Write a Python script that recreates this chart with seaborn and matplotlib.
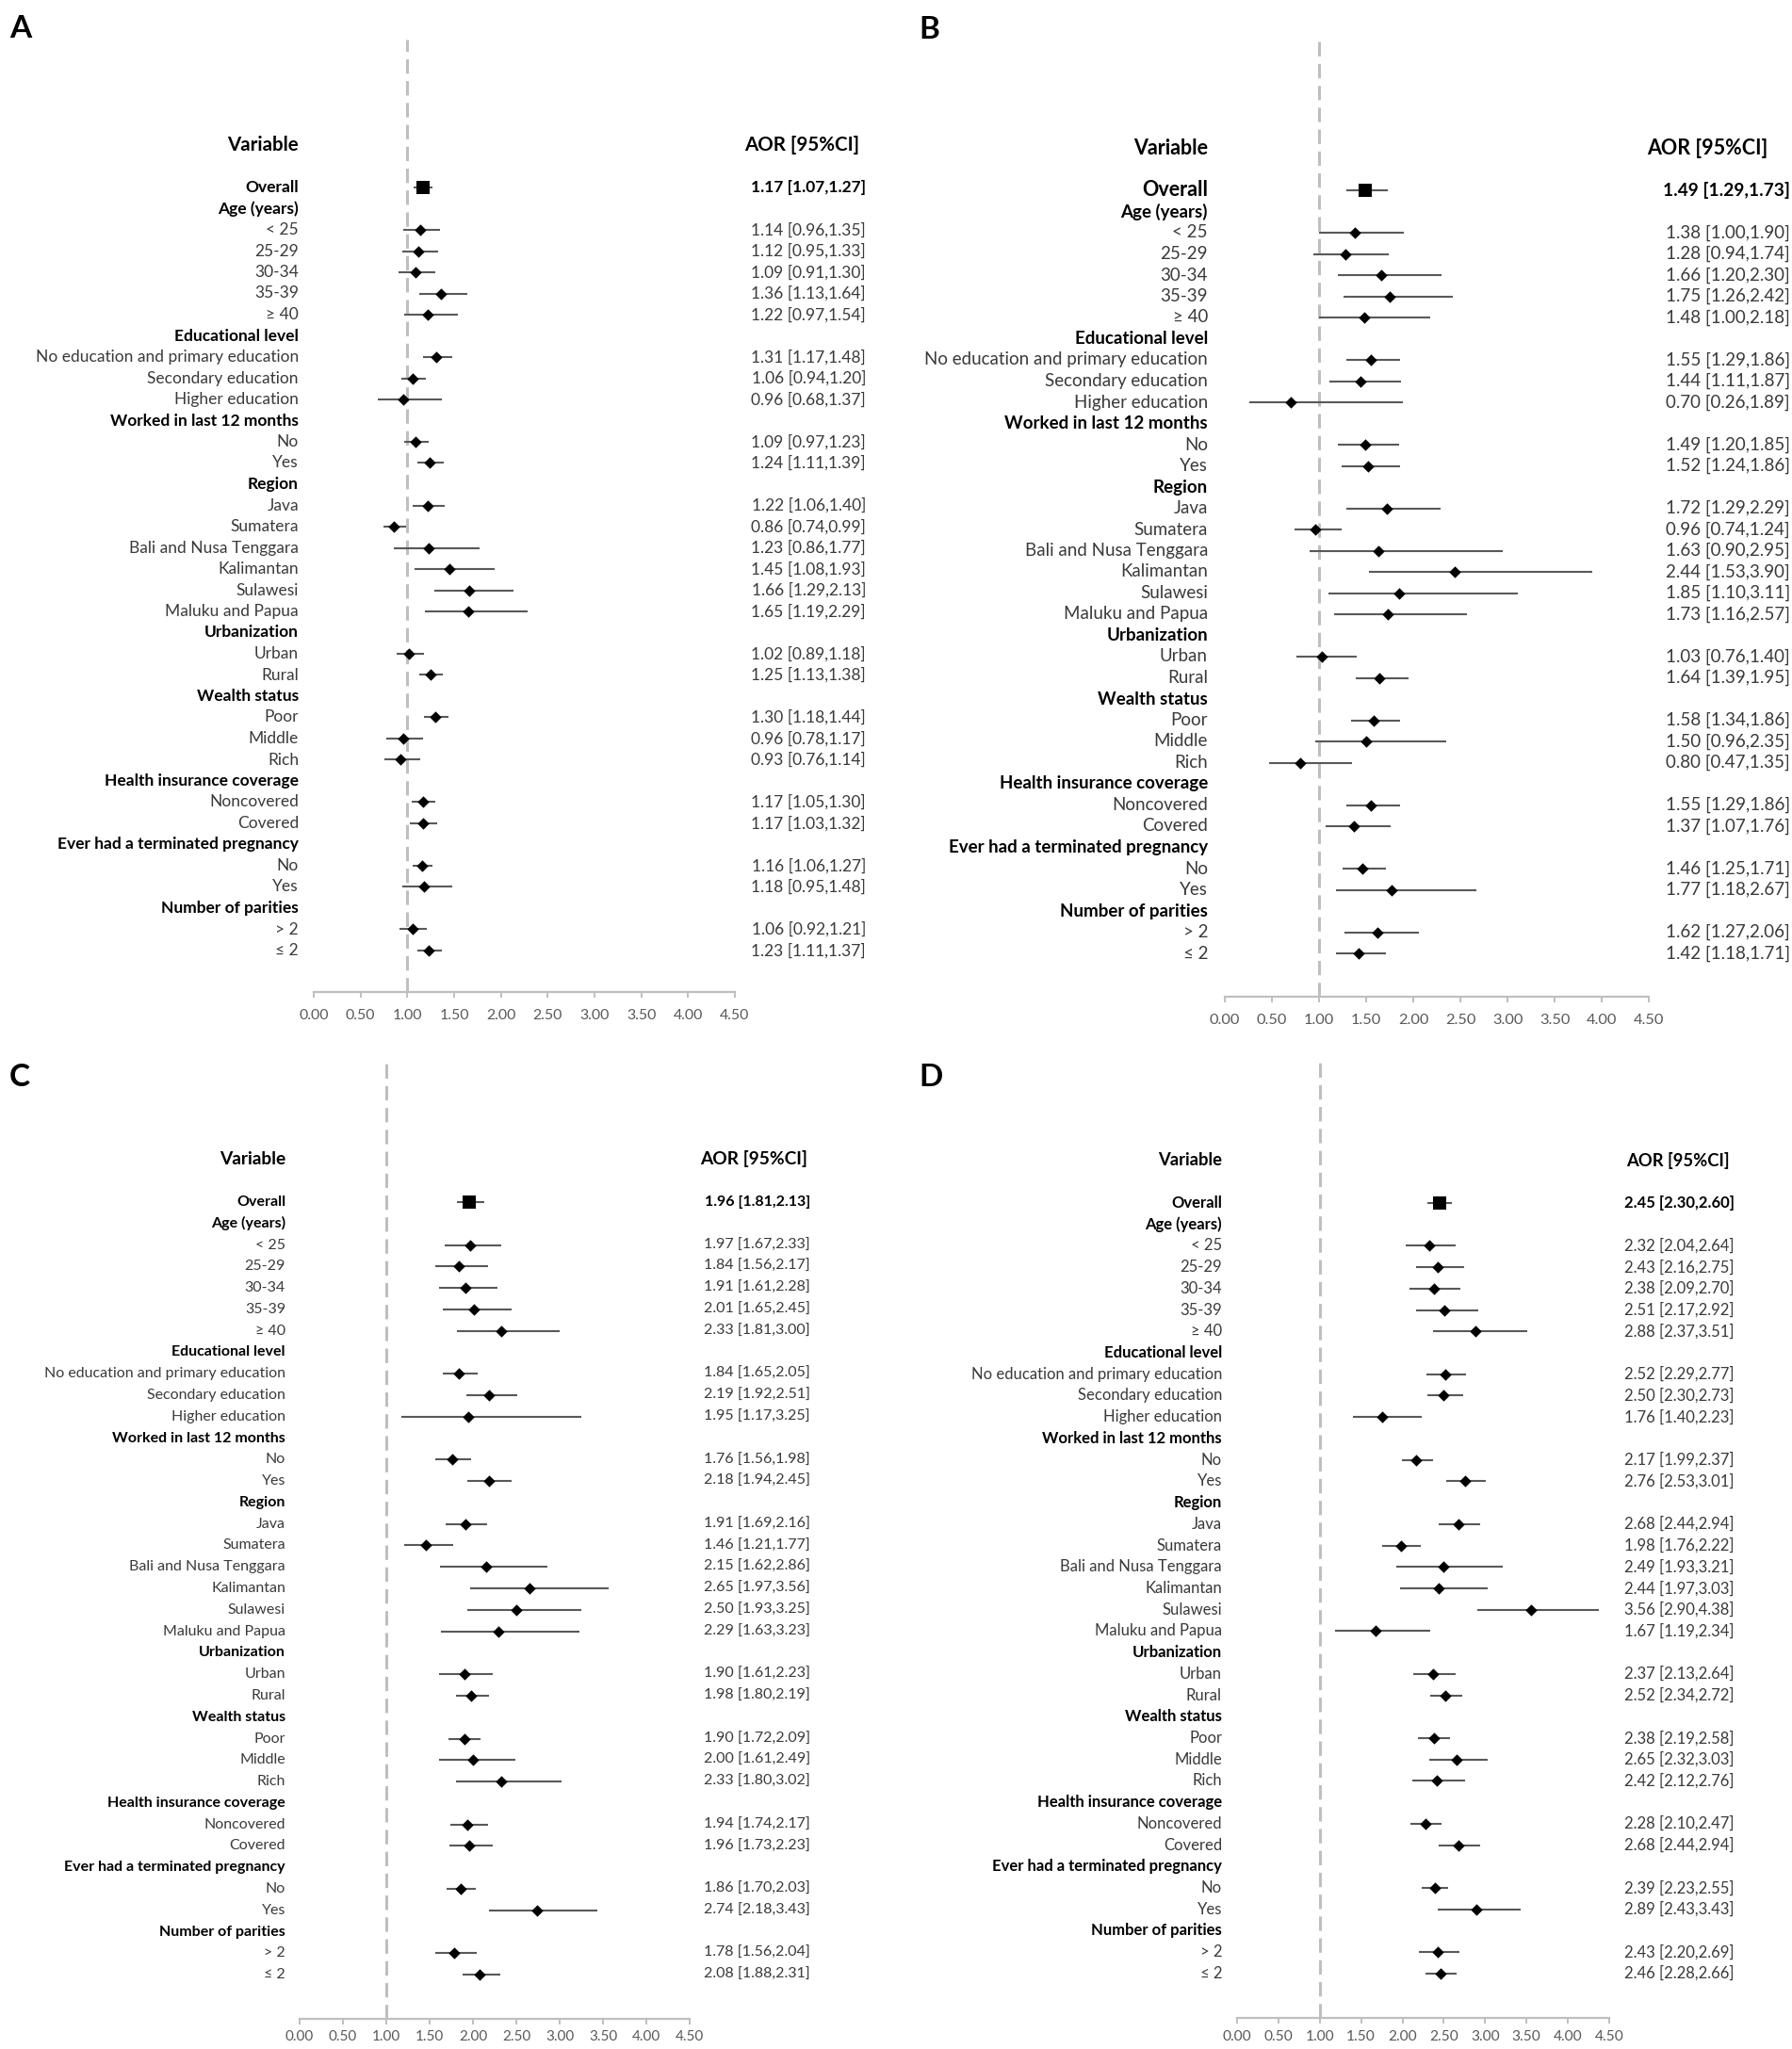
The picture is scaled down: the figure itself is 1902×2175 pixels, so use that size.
import numpy as np
import pandas as pd
import matplotlib
matplotlib.use("Agg")
import matplotlib.pyplot as plt
import matplotlib.transforms as mtransforms
import seaborn as sns

nan = np.nan

# === 1. Rows shared by all four panels ===
row_labels = [
    "Overall", "Age (years)", "< 25", "25-29", "30-34", "35-39", "≥ 40",
    "Educational level", "No education and primary education", "Secondary education", "Higher education",
    "Worked in last 12 months", "No", "Yes",
    "Region", "Java", "Sumatera", "Bali and Nusa Tenggara", "Kalimantan", "Sulawesi", "Maluku and Papua",
    "Urbanization", "Urban", "Rural",
    "Wealth status", "Poor", "Middle", "Rich",
    "Health insurance coverage", "Noncovered", "Covered",
    "Ever had a terminated pregnancy", "No", "Yes",
    "Number of parities", "> 2", "≤ 2",
]
row_kind = ["overall", "header", "item", "item", "item", "item", "item",
            "header", "item", "item", "item",
            "header", "item", "item",
            "header", "item", "item", "item", "item", "item", "item",
            "header", "item", "item",
            "header", "item", "item", "item",
            "header", "item", "item",
            "header", "item", "item",
            "header", "item", "item"]

# === 2. AOR and 95% CI per panel (nan on header rows) ===
aor_a = [1.17, nan, 1.14, 1.12, 1.09, 1.36, 1.22, nan, 1.31, 1.06, 0.96, nan, 1.09, 1.24, nan, 1.22, 0.86, 1.23, 1.45, 1.66, 1.65,
         nan, 1.02, 1.25, nan, 1.30, 0.96, 0.93, nan, 1.17, 1.17, nan, 1.16, 1.18, nan, 1.06, 1.23]
lo_a = [1.07, nan, 0.96, 0.95, 0.91, 1.13, 0.97, nan, 1.17, 0.94, 0.68, nan, 0.97, 1.11, nan, 1.06, 0.74, 0.86, 1.08, 1.29, 1.19,
        nan, 0.89, 1.13, nan, 1.18, 0.78, 0.76, nan, 1.05, 1.03, nan, 1.06, 0.95, nan, 0.92, 1.11]
hi_a = [1.27, nan, 1.35, 1.33, 1.30, 1.64, 1.54, nan, 1.48, 1.20, 1.37, nan, 1.23, 1.39, nan, 1.40, 0.99, 1.77, 1.93, 2.13, 2.29,
        nan, 1.18, 1.38, nan, 1.44, 1.17, 1.14, nan, 1.30, 1.32, nan, 1.27, 1.48, nan, 1.21, 1.37]

aor_b = [1.49, nan, 1.38, 1.28, 1.66, 1.75, 1.48, nan, 1.55, 1.44, 0.70, nan, 1.49, 1.52, nan, 1.72, 0.96, 1.63, 2.44, 1.85, 1.73,
         nan, 1.03, 1.64, nan, 1.58, 1.50, 0.80, nan, 1.55, 1.37, nan, 1.46, 1.77, nan, 1.62, 1.42]
lo_b = [1.29, nan, 1.00, 0.94, 1.20, 1.26, 1.00, nan, 1.29, 1.11, 0.26, nan, 1.20, 1.24, nan, 1.29, 0.74, 0.90, 1.53, 1.10, 1.16,
        nan, 0.76, 1.39, nan, 1.34, 0.96, 0.47, nan, 1.29, 1.07, nan, 1.25, 1.18, nan, 1.27, 1.18]
hi_b = [1.73, nan, 1.90, 1.74, 2.30, 2.42, 2.18, nan, 1.86, 1.87, 1.89, nan, 1.85, 1.86, nan, 2.29, 1.24, 2.95, 3.90, 3.11, 2.57,
        nan, 1.40, 1.95, nan, 1.86, 2.35, 1.35, nan, 1.86, 1.76, nan, 1.71, 2.67, nan, 2.06, 1.71]

aor_c = [1.96, nan, 1.97, 1.84, 1.91, 2.01, 2.33, nan, 1.84, 2.19, 1.95, nan, 1.76, 2.18, nan, 1.91, 1.46, 2.15, 2.65, 2.50, 2.29,
         nan, 1.90, 1.98, nan, 1.90, 2.00, 2.33, nan, 1.94, 1.96, nan, 1.86, 2.74, nan, 1.78, 2.08]
lo_c = [1.81, nan, 1.67, 1.56, 1.61, 1.65, 1.81, nan, 1.65, 1.92, 1.17, nan, 1.56, 1.94, nan, 1.69, 1.21, 1.62, 1.97, 1.93, 1.63,
        nan, 1.61, 1.80, nan, 1.72, 1.61, 1.80, nan, 1.74, 1.73, nan, 1.70, 2.18, nan, 1.56, 1.88]
hi_c = [2.13, nan, 2.33, 2.17, 2.28, 2.45, 3.00, nan, 2.05, 2.51, 3.25, nan, 1.98, 2.45, nan, 2.16, 1.77, 2.86, 3.56, 3.25, 3.23,
        nan, 2.23, 2.19, nan, 2.09, 2.49, 3.02, nan, 2.17, 2.23, nan, 2.03, 3.43, nan, 2.04, 2.31]

aor_d = [2.45, nan, 2.32, 2.43, 2.38, 2.51, 2.88, nan, 2.52, 2.50, 1.76, nan, 2.17, 2.76, nan, 2.68, 1.98, 2.49, 2.44, 3.56, 1.67,
         nan, 2.37, 2.52, nan, 2.38, 2.65, 2.42, nan, 2.28, 2.68, nan, 2.39, 2.89, nan, 2.43, 2.46]
lo_d = [2.30, nan, 2.04, 2.16, 2.09, 2.17, 2.37, nan, 2.29, 2.30, 1.40, nan, 1.99, 2.53, nan, 2.44, 1.76, 1.93, 1.97, 2.90, 1.19,
        nan, 2.13, 2.34, nan, 2.19, 2.32, 2.12, nan, 2.10, 2.44, nan, 2.23, 2.43, nan, 2.20, 2.28]
hi_d = [2.60, nan, 2.64, 2.75, 2.70, 2.92, 3.51, nan, 2.77, 2.73, 2.23, nan, 2.37, 3.01, nan, 2.94, 2.22, 3.21, 3.03, 4.38, 2.34,
        nan, 2.64, 2.72, nan, 2.58, 3.03, 2.76, nan, 2.47, 2.94, nan, 2.55, 3.43, nan, 2.69, 2.66]

x_ticks = [0.0, 0.5, 1.0, 1.5, 2.0, 2.5, 3.0, 3.5, 4.0, 4.5]

# === 3. Style ===
sns.set_theme(style="white")
plt.rcParams["font.family"] = ["Lato", "DejaVu Sans"]

W, H = 1902, 2175
fig = plt.figure(figsize=(W / 100, H / 100), dpi=100)

TXT = "#3a3a3a"
GRID = "#bfbfbf"


def draw_panel(letter, aor, lo, hi, lay):
    x0, x1, ytop, ybot = lay["box"]
    row0, step = lay["row0"], lay["step"]
    fs = lay["fs"]
    ax = fig.add_axes([x0 / W, 1 - ybot / H, (x1 - x0) / W, (ybot - ytop) / H])

    df = pd.DataFrame({"row": np.arange(len(row_labels)), "label": row_labels, "kind": row_kind,
                       "aor": aor, "lo": lo, "hi": hi})
    est = df.dropna(subset=["aor"])

    ax.axvline(1.0, color=GRID, lw=2.2, ls=(0, (5, 2.6)), zorder=0)
    ax.hlines(est["row"], est["lo"], est["hi"], color="#595959", lw=1.5, zorder=2)
    sns.scatterplot(data=est[est["kind"] == "item"], x="aor", y="row", marker="D", s=40,
                    color="black", linewidth=0, ax=ax, zorder=3)
    sns.scatterplot(data=est[est["kind"] == "overall"], x="aor", y="row", marker="s", s=88,
                    color="black", linewidth=0, ax=ax, zorder=3)

    ax.set_xlim(0, 4.5)
    ax.set_ylim((ybot - row0) / step, (ytop - row0) / step)
    ax.set(xlabel="", ylabel="")
    ax.set_yticks([])
    ax.set_xticks(x_ticks)
    ax.set_xticklabels([f"{t:.2f}" for t in x_ticks])
    sns.despine(ax=ax, left=True)
    ax.spines["bottom"].set_color(GRID)
    ax.spines["bottom"].set_linewidth(1.6)
    ax.tick_params(axis="x", direction="out", length=4, width=1.4, color=GRID,
                   labelcolor="#595959", labelsize=lay["tick_fs"], pad=lay["tick_pad"], bottom=True)
    ax.set_facecolor("none")

    trans = mtransforms.blended_transform_factory(fig.transFigure, ax.transData)
    hfs = fs * lay["hdr_scale"]
    ax.text(lay["lab_right"] / W, -2, "Variable", transform=trans, ha="right", va="center",
            fontsize=hfs, fontweight="bold", color="black")
    ax.text(lay["hdr_right"] / W, -2, "AOR [95%CI]", transform=trans, ha="right", va="center",
            fontsize=hfs, fontweight="bold", color="black")

    for r in df.itertuples():
        if r.kind == "overall":
            kw = dict(fontsize=fs * lay["ov_scale"], fontweight="bold", color="black")
            kv = dict(fontsize=fs * lay["ov_val_scale"], fontweight="bold", color="black")
        elif r.kind == "header":
            kw = dict(fontsize=fs, fontweight="bold", color="black")
            kv = kw
        else:
            kw = dict(fontsize=fs, color=TXT)
            kv = kw
        ax.text(lay["lab_right"] / W, r.row, r.label, transform=trans, ha="right", va="center", **kw)
        if r.kind != "header":
            ax.text(lay["val_right"] / W, r.row, f"{r.aor:.2f} [{r.lo:.2f},{r.hi:.2f}]",
                    transform=trans, ha="right", va="center", **kv)

    fig.text(lay["letter"][0] / W, 1 - lay["letter"][1] / H, letter, fontsize=24,
             fontweight="bold", color="black", ha="left", va="baseline")


layouts = {
    "A": dict(box=(333, 780, 42, 1053), row0=199, step=22.5, lab_right=317, val_right=919, hdr_right=912,
              fs=12.5, hdr_scale=1.18, ov_scale=1.0, ov_val_scale=1.0, tick_fs=11.4, tick_pad=9,
              letter=(10, 40)),
    "B": dict(box=(1300, 1750, 43, 1058), row0=202, step=22.5, lab_right=1282, val_right=1900, hdr_right=1876,
              fs=13.5, hdr_scale=1.15, ov_scale=1.15, ov_val_scale=1.02, tick_fs=11.8, tick_pad=9,
              letter=(975, 41)),
    "C": dict(box=(318, 732, 1123, 2143), row0=1276, step=22.78, lab_right=303, val_right=860, hdr_right=857,
              fs=11.5, hdr_scale=1.2, ov_scale=1.0, ov_val_scale=1.0, tick_fs=11.0, tick_pad=5,
              letter=(10, 1153)),
    "D": dict(box=(1313, 1708, 1123, 2142), row0=1277, step=22.72, lab_right=1297, val_right=1841, hdr_right=1836,
              fs=12.0, hdr_scale=1.1, ov_scale=1.0, ov_val_scale=1.0, tick_fs=11.2, tick_pad=5,
              letter=(975, 1153)),
}

draw_panel("A", aor_a, lo_a, hi_a, layouts["A"])
draw_panel("B", aor_b, lo_b, hi_b, layouts["B"])
draw_panel("C", aor_c, lo_c, hi_c, layouts["C"])
draw_panel("D", aor_d, lo_d, hi_d, layouts["D"])

fig.savefig("out.png", dpi=100, facecolor="white")
